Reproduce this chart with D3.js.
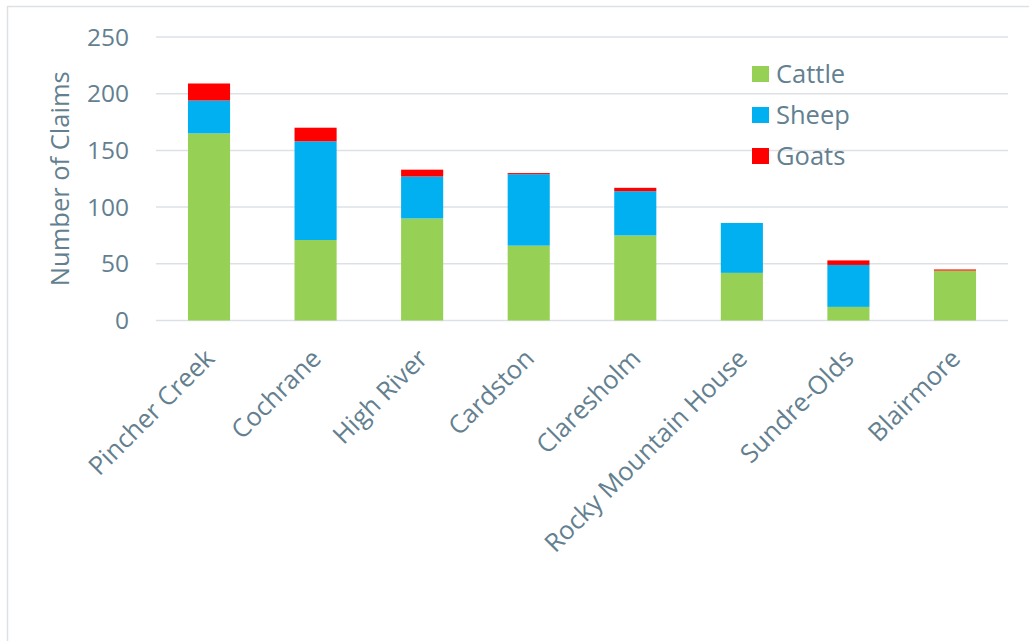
<!DOCTYPE html>
<html>
<head>
<meta charset="utf-8">
<script src="https://cdn.jsdelivr.net/npm/d3@7"></script>
<style>
  body { margin: 0; background: #fff; }
  text { font-family: "Open Sans", sans-serif; fill: #637f90; }
</style>
</head>
<body>
<svg id="chart" width="1029" height="641"></svg>
<script>
// Claims by district
var districts = ["Pincher Creek", "Cochrane", "High River", "Cardston", "Claresholm",
                 "Rocky Mountain House", "Sundre-Olds", "Blairmore"];
var cattle = [165, 71, 90, 66, 75, 42, 12, 44];
var sheep  = [29, 87, 37, 63, 39, 44, 37, 0];
var goats  = [15, 12, 6, 1, 3, 0, 4, 1];
var seriesNames = ["Cattle", "Sheep", "Goats"];
var seriesColors = ["#96d155", "#00b0f0", "#ff0000"];
var yTicks = [0, 50, 100, 150, 200, 250];

var svg = d3.select("#chart");

// frame lines like the original
svg.append("path")
    .attr("d", "M7.5,641 V6.5 H1029")
    .attr("fill", "none")
    .attr("stroke", "#dde1e6")
    .attr("stroke-width", 1.5);

var plotLeft = 156, plotRight = 1008, plotTop = 37, plotBottom = 320.5;

var x = d3.scaleBand()
    .domain(districts)
    .range([plotLeft, plotRight])
    .paddingInner(0.605)
    .paddingOuter(0.3);

var y = d3.scaleLinear()
    .domain([0, 250])
    .range([plotBottom, plotTop]);

// gridlines
svg.append("g")
  .selectAll("line")
  .data(yTicks)
  .join("line")
    .attr("x1", plotLeft)
    .attr("x2", plotRight)
    .attr("y1", d => y(d))
    .attr("y2", d => y(d))
    .attr("stroke", "#dde1e6")
    .attr("stroke-width", 1.5);

// y tick labels
svg.append("g")
  .selectAll("text")
  .data(yTicks)
  .join("text")
    .attr("x", 129)
    .attr("y", d => y(d))
    .attr("dy", "0.35em")
    .attr("text-anchor", "end")
    .style("font-size", "24.5px")
    .text(d => d);

// y axis title
svg.append("text")
    .attr("transform", "translate(69," + ((plotTop + plotBottom) / 2) + ") rotate(-90)")
    .attr("text-anchor", "middle")
    .style("font-size", "25.5px")
    .text("Number of Claims");

// stacked bars
var table = districts.map(function(d, i) {
  return { district: d, Cattle: cattle[i], Sheep: sheep[i], Goats: goats[i] };
});
var stack = d3.stack().keys(seriesNames)(table);

svg.append("g")
  .selectAll("g")
  .data(stack)
  .join("g")
    .attr("fill", (d, i) => seriesColors[i])
  .selectAll("rect")
  .data(d => d.filter(p => p[1] - p[0] > 0))
  .join("rect")
    .attr("x", d => x(d.data.district))
    .attr("width", x.bandwidth())
    .attr("y", d => y(d[1]))
    .attr("height", d => y(d[0]) - y(d[1]));

// x labels, rotated
svg.append("g")
  .selectAll("text")
  .data(districts)
  .join("text")
    .attr("transform", d => "translate(" + (x(d) + x.bandwidth() / 2 + 7) + ",360) rotate(-45)")
    .attr("text-anchor", "end")
    .style("font-size", "25.5px")
    .text(d => d);

// legend
var legend = svg.append("g")
  .selectAll("g")
  .data(seriesNames)
  .join("g")
    .attr("transform", (d, i) => "translate(752," + (66 + i * 41) + ")");

legend.append("rect")
    .attr("width", 17)
    .attr("height", 16)
    .attr("fill", (d, i) => seriesColors[i]);

legend.append("text")
    .attr("x", 24)
    .attr("y", 8)
    .attr("dy", "0.36em")
    .style("font-size", "25.5px")
    .text(d => d);
</script>
</body>
</html>
